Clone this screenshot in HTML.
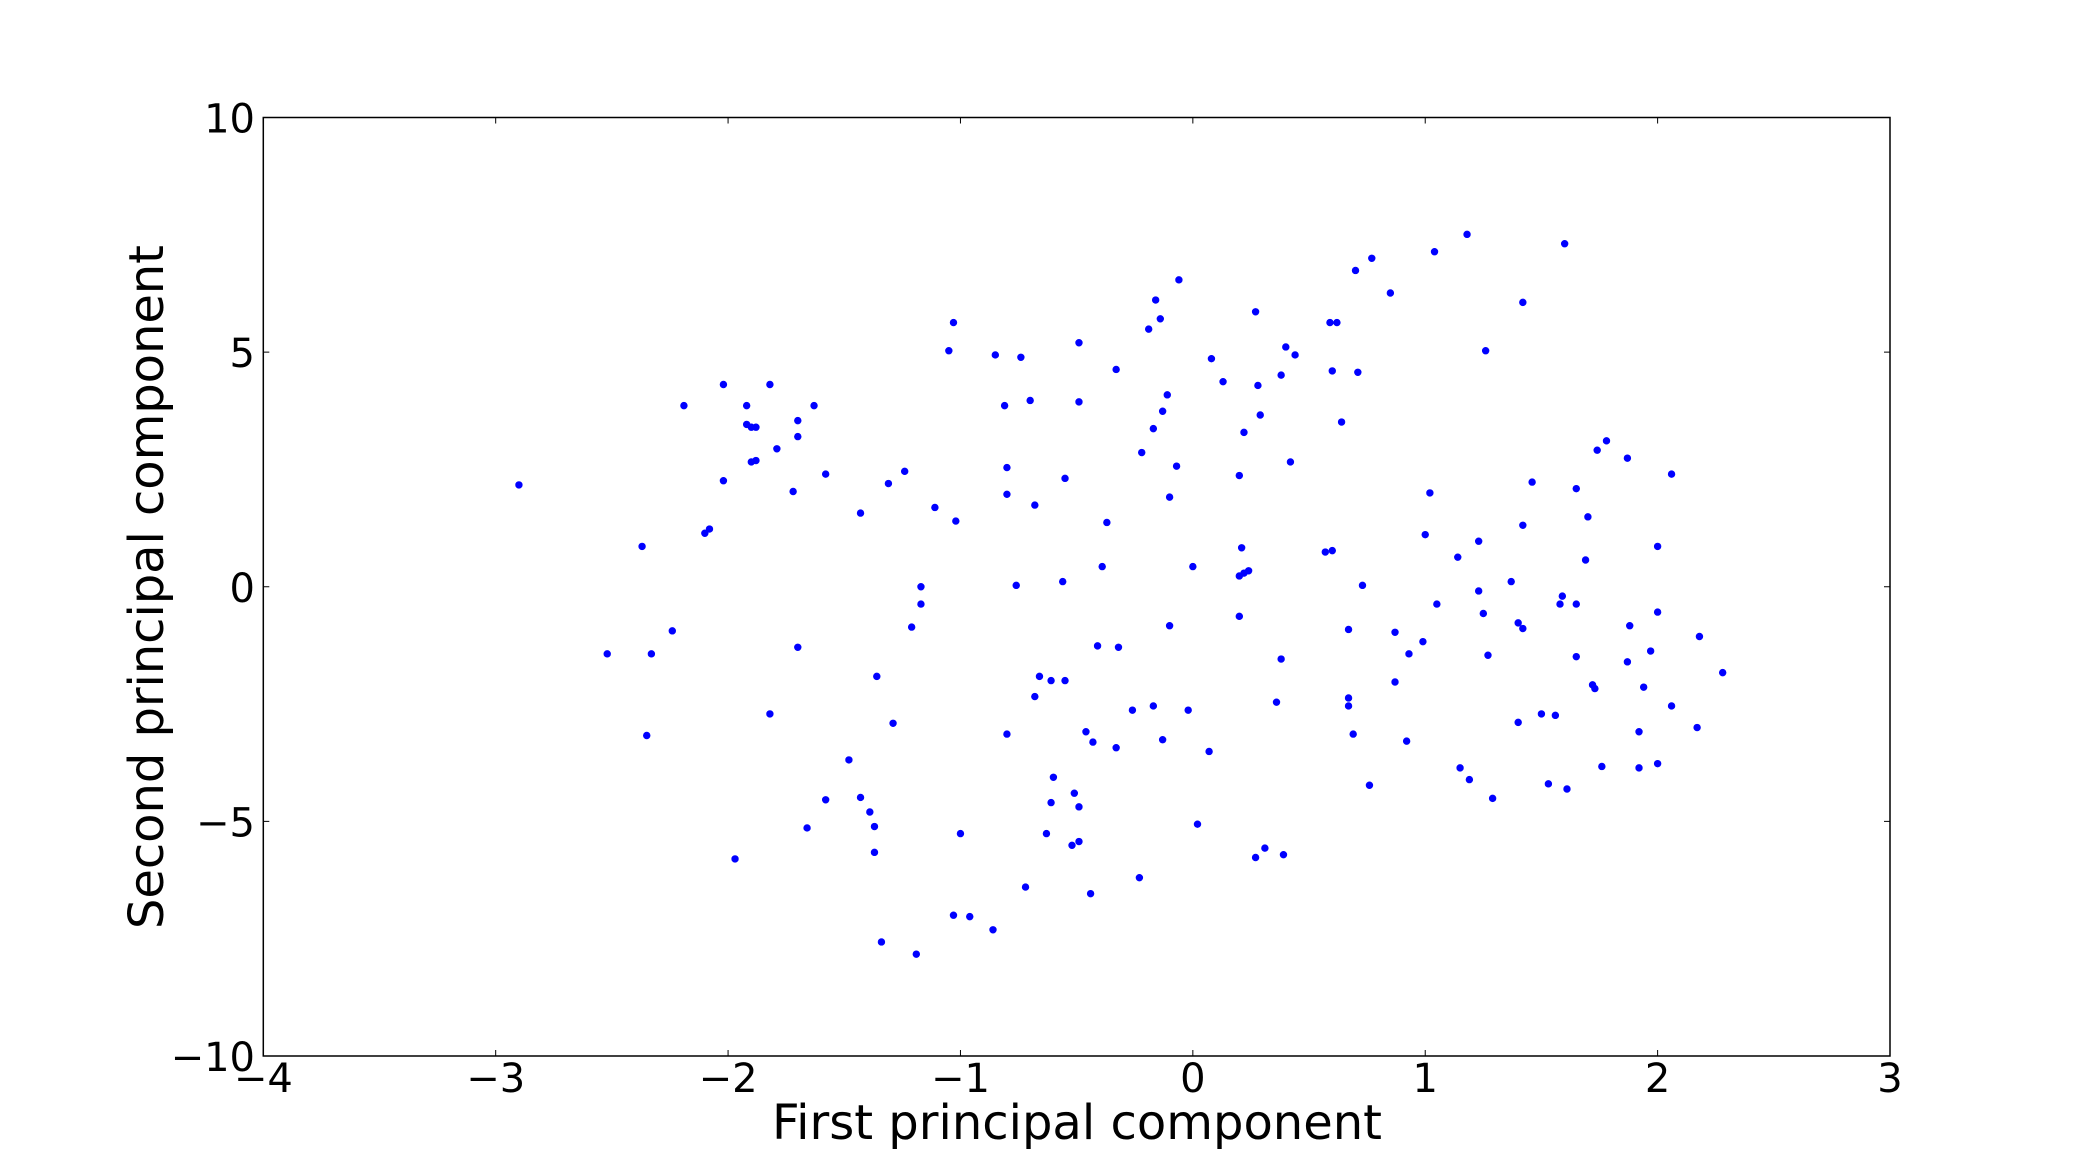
<!DOCTYPE html>
<html><head><meta charset="utf-8"><style>
html,body{margin:0;padding:0;background:#fff;}
svg{display:block;font-family:"DejaVu Sans","Liberation Sans",sans-serif;}
</style></head>
<body>
<svg id="chart" width="2100" height="1173" viewBox="0 0 2100 1173">
<rect width="2100" height="1173" fill="#fff"/>
<g id="plot"></g>
<g id="axes"></g>
<text x="1077" y="1139" font-size="48" text-anchor="middle" textLength="610">First principal component</text>
<text transform="translate(163,587) rotate(-90)" font-size="48" text-anchor="middle" textLength="684">Second principal component</text>
</svg>
<script>
const xTicks = [-4,-3,-2,-1,0,1,2,3];
const yTicks = [-10,-5,0,5,10];
const pcX = [-2.90,-2.52,-2.37,-2.33,-2.35,-2.24,-2.19,-2.10,-2.08,-2.02,-2.02,-1.97,-1.92,-1.92,-1.90,-1.88,-1.90,-1.88,-1.82,-1.82,-1.79,-1.72,-1.70,-1.70,-1.70,-1.63,-1.66,-1.58,-1.58,-1.48,-1.43,-1.43,-1.39,-1.37,-1.37,-1.36,-1.34,-1.31,-1.29,-1.24,-1.21,-1.17,-1.17,-1.19,-1.11,-1.03,-1.05,-1.03,-1.02,-1.00,-0.96,-0.86,-0.85,-0.81,-0.80,-0.80,-0.80,-0.76,-0.74,-0.72,-0.70,-0.68,-0.68,-0.66,-0.63,-0.61,-0.60,-0.61,-0.56,-0.55,-0.55,-0.52,-0.51,-0.49,-0.49,-0.49,-0.49,-0.46,-0.44,-0.43,-0.41,-0.39,-0.37,-0.33,-0.33,-0.32,-0.26,-0.23,-0.22,-0.19,-0.17,-0.17,-0.16,-0.14,-0.13,-0.13,-0.11,-0.10,-0.10,-0.07,-0.06,-0.02,0.00,0.02,0.07,0.08,0.13,0.20,0.20,0.21,0.20,0.22,0.24,0.22,0.27,0.27,0.28,0.29,0.31,0.36,0.38,0.38,0.39,0.40,0.42,0.44,0.57,0.60,0.59,0.62,0.60,0.64,0.67,0.67,0.67,0.69,0.70,0.71,0.73,0.76,0.77,0.85,0.87,0.87,0.92,0.93,0.99,1.00,1.02,1.04,1.05,1.14,1.15,1.19,1.18,1.23,1.23,1.25,1.26,1.27,1.29,1.37,1.40,1.42,1.40,1.42,1.42,1.46,1.50,1.53,1.56,1.58,1.59,1.60,1.61,1.65,1.65,1.65,1.69,1.70,1.72,1.73,1.74,1.76,1.78,1.87,1.88,1.87,1.92,1.92,1.94,1.97,2.00,2.00,2.00,2.06,2.06,2.17,2.18,2.28];
const pcY = [2.17,-1.43,0.86,-1.43,-3.17,-0.94,3.86,1.14,1.23,4.31,2.26,-5.80,3.86,3.46,3.40,3.40,2.66,2.69,4.31,-2.71,2.94,2.03,3.54,3.20,-1.29,3.86,-5.14,2.40,-4.54,-3.69,1.57,-4.49,-4.80,-5.11,-5.66,-1.91,-7.57,2.20,-2.91,2.46,-0.86,0.00,-0.37,-7.83,1.69,-7.00,5.03,5.63,1.40,-5.26,-7.03,-7.31,4.94,3.86,2.54,1.97,-3.14,0.03,4.89,-6.40,3.97,1.74,-2.34,-1.91,-5.26,-2.00,-4.06,-4.60,0.11,-2.00,2.31,-5.51,-4.40,5.20,3.94,-4.69,-5.43,-3.09,-6.54,-3.31,-1.26,0.43,1.37,4.63,-3.43,-1.29,-2.63,-6.20,2.86,5.49,-2.54,3.37,6.11,5.71,3.74,-3.26,4.09,-0.83,1.91,2.57,6.54,-2.63,0.43,-5.06,-3.51,4.86,4.37,2.37,-0.63,0.83,0.23,0.29,0.34,3.29,5.86,-5.77,4.29,3.66,-5.57,-2.46,-1.54,4.51,-5.71,5.11,2.66,4.94,0.74,0.77,5.63,5.63,4.60,3.51,-0.91,-2.37,-2.54,-3.14,6.74,4.57,0.03,-4.23,7.00,6.26,-0.97,-2.03,-3.29,-1.43,-1.17,1.11,2.00,7.14,-0.37,0.63,-3.86,-4.11,7.51,0.97,-0.09,-0.57,5.03,-1.46,-4.51,0.11,-0.77,-0.89,-2.89,1.31,6.06,2.23,-2.71,-4.20,-2.74,-0.37,-0.20,7.31,-4.31,-0.37,2.09,-1.49,0.57,1.49,-2.09,-2.17,2.91,-3.83,3.11,2.74,-0.83,-1.60,-3.09,-3.86,-2.14,-1.37,-3.77,-0.54,0.86,-2.54,2.40,-3.00,-1.06,-1.83];

const NS = 'http://www.w3.org/2000/svg';
const L = 263.3, R = 1890, T = 117.5, B = 1056;
const xMin = -4, xMax = 3, yMin = -10, yMax = 10;
function sx(v){ return L + (v - xMin) / (xMax - xMin) * (R - L); }
function sy(v){ return B - (v - yMin) / (yMax - yMin) * (B - T); }
function mk(tag, attrs){ const e = document.createElementNS(NS, tag); for (const k in attrs) e.setAttribute(k, attrs[k]); return e; }
function fmt(v){ return v < 0 ? '\u2212' + Math.abs(v) : String(v); }

const plot = document.getElementById('plot');
for (let i = 0; i < pcX.length; i++) {
  const c = mk('circle', {cx: sx(pcX[i]), cy: sy(pcY[i]), r: 3.4, fill: '#0000ff', stroke: '#0000ff', 'stroke-width': 0.6});
  
  
  plot.appendChild(c);
}

const axes = document.getElementById('axes');
const frame = mk('rect', {x: L, y: T, width: R - L, height: B - T, fill: 'none', stroke: '#000', 'stroke-width': 1.5});


axes.appendChild(frame);

xTicks.forEach(v => {
  const x = sx(v);
  const t1 = mk('line', {x1: x, x2: x, y1: B, y2: B - 6, stroke: '#000', 'stroke-width': 1});
  
  
  axes.appendChild(t1);
  const t2 = mk('line', {x1: x, x2: x, y1: T, y2: T + 6, stroke: '#000', 'stroke-width': 1});
  
  
  axes.appendChild(t2);
  const lb = mk('text', {x: x, y: 1092, 'font-size': 40, 'text-anchor': 'middle'});
  lb.textContent = fmt(v);
  
  
  axes.appendChild(lb);
});
yTicks.forEach(v => {
  const y = sy(v);
  const t1 = mk('line', {x1: L, x2: L + 6, y1: y, y2: y, stroke: '#000', 'stroke-width': 1});
  
  
  axes.appendChild(t1);
  const t2 = mk('line', {x1: R, x2: R - 6, y1: y, y2: y, stroke: '#000', 'stroke-width': 1});
  
  
  axes.appendChild(t2);
  const lb = mk('text', {x: 255, y: y + 15, 'font-size': 40, 'text-anchor': 'end'});
  lb.textContent = fmt(v);
  
  
  axes.appendChild(lb);
});
</script>
</body></html>
